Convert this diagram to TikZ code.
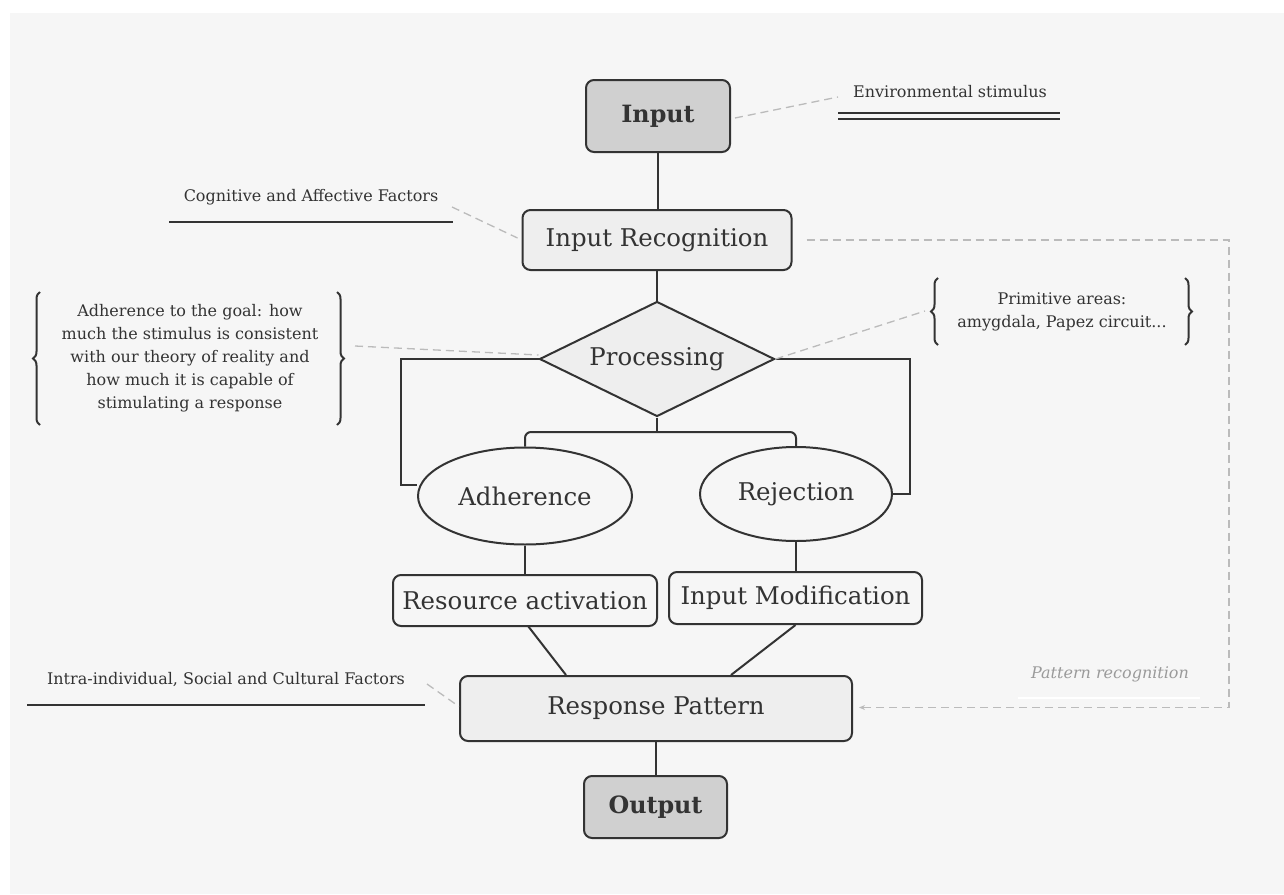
\documentclass[tikz,border=0pt]{standalone}
\usepackage{fontspec}
\setmainfont{DejaVu Serif}
\usetikzlibrary{shapes.geometric,decorations.pathreplacing,arrows.meta,calc}
\definecolor{bg}{HTML}{F6F6F6}
\definecolor{ink}{HTML}{333333}
\definecolor{dk}{HTML}{D0D0D0}
\definecolor{lt}{HTML}{EEEEEE}
\definecolor{dashc}{HTML}{BBBBBB}
\definecolor{patc}{HTML}{9A9A9A}
\begin{document}
\begin{tikzpicture}[x=1pt,y=-1pt,
  box/.style={draw=ink,line width=2pt,rounded corners=8pt,inner sep=0pt,text=ink,font=\fontsize{24.4}{28}\selectfont},
  term/.style={box,fill=dk,font=\fontsize{23.8}{28}\selectfont\bfseries},
  midbox/.style={box,fill=lt},
  plainbox/.style={box,fill=bg},
  ell/.style={ellipse,draw=ink,line width=2pt,fill=bg,inner sep=0pt,text=ink,font=\fontsize{24.4}{28}\selectfont},
  dia/.style={diamond,aspect=2.04,draw=ink,line width=2pt,fill=lt,inner sep=0pt,text=ink,font=\fontsize{24.4}{28}\selectfont},
  conn/.style={draw=ink,line width=2pt},
  note/.style={inner sep=0pt,text=ink,align=center,font=\fontsize{16}{23}\selectfont},
  lead/.style={draw=dashc,line width=1.3pt,dash pattern=on 8pt off 5pt},
  rule/.style={draw=ink,line width=2pt},
  brc/.style={draw=ink,line width=2pt,decorate,decoration={brace,amplitude=7pt}},
]
\useasboundingbox (0,0) rectangle (1284,894);
\fill[white] (0,0) rectangle (1284,894);
\fill[bg] (10,13) rectangle (1284,894);

% main nodes
\node[term,minimum width=144pt,minimum height=72pt] (in) at (658,116) {Input};
\node[midbox,minimum width=269pt,minimum height=60pt] (ir) at (657,240) {Input Recognition};
\node[dia,minimum width=235pt,minimum height=115pt] (pr) at (657,359) {Processing};
\node[ell,minimum width=214pt,minimum height=97pt] (ad) at (525,496) {Adherence};
\node[ell,minimum width=192pt,minimum height=94pt] (rj) at (796,494) {Rejection};
\node[plainbox,minimum width=264pt,minimum height=51pt] (ra) at (525,600.5) {Resource activation};
\node[plainbox,minimum width=253pt,minimum height=52pt] (im) at (795.5,598) {Input Modification};
\node[midbox,minimum width=392pt,minimum height=65pt] (rp) at (656,708.5) {Response Pattern};
\node[term,minimum width=143pt,minimum height=62pt] (out) at (655.5,807) {Output};

% connectors
\coordinate (split) at (657,432);
\draw[conn] (in.south) -- (in.south |- ir.north);
\draw[conn] (ir.south) -- (pr.north);
\draw[conn] (pr.south) -- (split);
\draw[conn,rounded corners=6pt] (ad.north) |- (split) -| (rj.north);
\draw[conn] (pr.west) -| (401,485) -- (ad.west |- 0,485);
\draw[conn] (pr.east) -| (910,494) -- (rj.east);
\draw[conn] (ad.south) -- (ra.north);
\draw[conn] (rj.south) -- (rj.south |- im.north);
\draw[conn] (528,626) -- ($(rp.north)+(-90,0)$);
\draw[conn] (im.south) -- ($(rp.north)+(75,0)$);
\draw[conn] (rp.south) -- (rp.south |- out.north);

% annotations
\node[note] (es) at (950,92) {Environmental stimulus};
\draw[ink,line width=1.6pt] (838,113) -- (1060,113);
\draw[ink,line width=1.6pt] (838,119) -- (1060,119);
\draw[lead] ($(in.east)+(4,2)$) -- (838,97);

\node[note] (caf) at (311,197) {Cognitive and Affective Factors};
\draw[rule] (169,222) -- (453,222);
\draw[lead] (452,207) -- ($(ir.west)+(-4,-2)$);

\node[note] (goal) at (190,358) {Adherence to the goal: how\\much the stimulus is consistent\\with our theory of reality and\\how much it is capable of\\stimulating a response};
\draw[brc] (40,425) -- (40,292);
\draw[brc] (337,292) -- (337,425);
\draw[lead] (355,346) -- ($(pr.west)+(0,-4)$);

\node[note] (prim) at (1062,312) {Primitive areas:\\amygdala, Papez circuit...};
\draw[brc] (938,345) -- (938,278);
\draw[brc] (1185,278) -- (1185,345);
\draw[lead] (pr.east) -- (925,311);

\node[note] (iscf) at (226,680) {Intra-individual, Social and Cultural Factors};
\draw[rule] (27,705) -- (425,705);
\draw[lead] (427,684) -- ($(rp.west)+(0,-2)$);

\node[note,text=patc,font=\fontsize{16}{18}\selectfont\itshape] (pat) at (1110,674) {Pattern recognition};
\draw[white,line width=1.6pt] (1018,698) -- (1200,698);
\draw[lead,-{Stealth[length=6pt,width=5pt]}] ($(ir.east)+(14,0)$) -- (1229,240) |- ($(rp.east)+(6,-1)$);
\end{tikzpicture}
\end{document}
